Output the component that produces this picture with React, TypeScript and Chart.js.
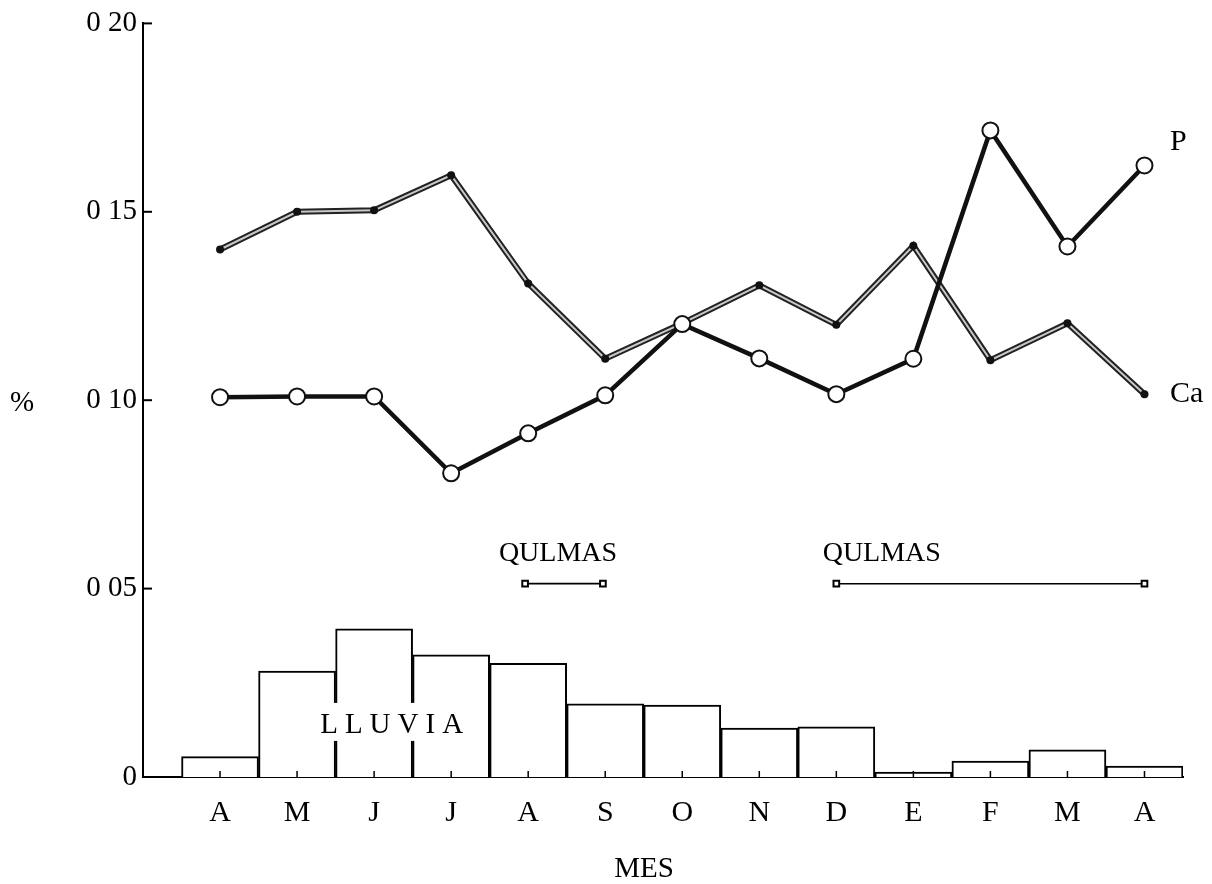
import React, { useEffect, useRef } from 'react';
import { Chart, registerables } from 'chart.js';

Chart.register(...registerables);

// ---- Data ----
const months = ['A', 'M', 'J', 'J', 'A', 'S', 'O', 'N', 'D', 'E', 'F', 'M', 'A'];
const lluvia = [0.0054, 0.0281, 0.0393, 0.0324, 0.0302, 0.0194, 0.0191, 0.013, 0.0133, 0.0013, 0.0042, 0.0072, 0.0029];
const fosforoP = [0.1008, 0.101, 0.101, 0.0806, 0.0912, 0.1013, 0.1202, 0.1111, 0.1016, 0.111, 0.1716, 0.1408, 0.1623];
const calcioCa = [0.140, 0.150, 0.1504, 0.1597, 0.131, 0.111, 0.1204, 0.1305, 0.120, 0.141, 0.1106, 0.1204, 0.1016];
const quemas1X = [3.96, 4.97];
const quemas2X = [8.0, 12.0];
const quemasY = 0.0513;
const yTickValues = [0, 0.05, 0.1, 0.15, 0.2];
const yTickLabels = ['0', '0 05', '0 10', '0 15', '0 20'];

const FONT = '"Liberation Serif", "Times New Roman", serif';

export default function App() {
  const ref = useRef<HTMLCanvasElement>(null);

  useEffect(() => {
    const canvas = ref.current;
    if (!canvas) return;
    const pts = (arr: number[]) => arr.map((v, i) => ({ x: i, y: v }));
    const seg = (xs: number[]) => xs.map((x) => ({ x, y: quemasY }));

    const annot = {
      id: 'annot',
      afterDatasetsDraw(chart: any) {
        const { ctx, scales } = chart;
        const x = scales.x;
        const y = scales.y;
        ctx.save();
        ctx.strokeStyle = '#000';
        // y tick marks (inside)
        ctx.lineWidth = 2;
        yTickValues.forEach((v) => {
          if (v === 0) return;
          const py = y.getPixelForValue(v);
          ctx.beginPath();
          ctx.moveTo(x.left, py);
          ctx.lineTo(x.left + 9, py);
          ctx.stroke();
        });
        // x tick marks (inside, pointing up)
        ctx.lineWidth = 1.5;
        months.forEach((_, i) => {
          const px = x.getPixelForValue(i);
          ctx.beginPath();
          ctx.moveTo(px, y.bottom);
          ctx.lineTo(px, y.bottom - 6);
          ctx.stroke();
        });

        ctx.fillStyle = '#000';
        ctx.textBaseline = 'alphabetic';

        // LLUVIA with white backing
        ctx.font = `29px ${FONT}`;
        (ctx as any).letterSpacing = '7px';
        const lx = x.getPixelForValue(1.3);
        const ly = y.getPixelForValue(0.0117);
        const lw = ctx.measureText('LLUVIA').width;
        ctx.fillStyle = '#fff';
        ctx.fillRect(lx - 3, ly - 30, lw, 38);
        ctx.fillStyle = '#000';
        ctx.textAlign = 'left';
        ctx.fillText('LLUVIA', lx, ly);
        (ctx as any).letterSpacing = '0px';

        // QULMAS labels
        ctx.font = `28px ${FONT}`;
        ctx.textAlign = 'center';
        ctx.fillText('QULMAS', x.getPixelForValue(4.387), y.getPixelForValue(0.0573));
        ctx.fillText('QULMAS', x.getPixelForValue(8.59), y.getPixelForValue(0.0573));

        // Series labels
        ctx.font = `30px ${FONT}`;
        ctx.textAlign = 'left';
        ctx.fillText('P', 1170, 150);
        ctx.fillText('Ca', 1170, 402);

        // Axis titles
        ctx.font = `29px ${FONT}`;
        ctx.textAlign = 'center';
        ctx.fillText('%', 22, 411);
        ctx.fillText('MES', 644, 877);
        ctx.restore();
      },
    };

    const chart = new Chart(canvas, {
      type: 'bar',
      data: {
        datasets: [
          {
            type: 'line',
            label: 'QULMAS 1',
            data: seg(quemas1X),
            borderColor: '#000',
            borderWidth: 1.8,
            pointStyle: 'rect',
            pointRadius: 4,
            pointBackgroundColor: '#fff',
            pointBorderColor: '#000',
            pointBorderWidth: 2,
            order: 1,
          } as any,
          {
            type: 'line',
            label: 'QULMAS 2',
            data: seg(quemas2X),
            borderColor: '#000',
            borderWidth: 1.5,
            pointStyle: 'rect',
            pointRadius: 4,
            pointBackgroundColor: '#fff',
            pointBorderColor: '#000',
            pointBorderWidth: 2,
            order: 1,
          } as any,
          {
            type: 'line',
            label: 'P',
            data: pts(fosforoP),
            borderColor: '#111',
            borderWidth: 4.5,
            pointRadius: 8,
            pointBackgroundColor: '#fff',
            pointBorderColor: '#111',
            pointBorderWidth: 2,
            clip: false,
            order: 2,
          } as any,
          {
            type: 'line',
            label: 'Ca dots',
            data: pts(calcioCa),
            showLine: false,
            pointRadius: 4,
            pointBackgroundColor: '#111',
            pointBorderColor: '#111',
            pointBorderWidth: 0,
            clip: false,
            order: 3,
          } as any,
          {
            type: 'line',
            label: 'Ca inner',
            data: pts(calcioCa),
            borderColor: '#c8c8c8',
            borderWidth: 2,
            pointRadius: 0,
            order: 4,
          } as any,
          {
            type: 'line',
            label: 'Ca',
            data: pts(calcioCa),
            borderColor: '#222',
            borderWidth: 6,
            pointRadius: 0,
            order: 5,
          } as any,
          {
            type: 'bar',
            label: 'LLUVIA',
            data: pts(lluvia),
            backgroundColor: '#fff',
            borderColor: '#000',
            borderWidth: 2,
            barPercentage: 1,
            categoryPercentage: 1,
            order: 10,
          } as any,
        ],
      },
      options: {
        responsive: false,
        animation: false,
        events: [],
        layout: { padding: { left: 0, top: 23, right: 29, bottom: 0 } },
        plugins: {
          legend: { display: false },
          tooltip: { enabled: false },
          title: { display: false },
        },
        scales: {
          x: {
            type: 'linear',
            min: -1,
            max: 12.5,
            offset: false,
            grid: { display: false, drawTicks: false, offset: false },
            border: { display: true, color: '#000', width: 2 },
            afterBuildTicks: (axis: any) => {
              axis.ticks = months.map((_, i) => ({ value: i }));
            },
            afterFit: (axis: any) => {
              axis.height = 107;
            },
            ticks: {
              autoSkip: false,
              maxRotation: 0,
              padding: 18,
              color: '#000',
              font: { family: FONT, size: 30 },
              callback: (v: any) => months[v as number] ?? '',
            },
          },
          y: {
            type: 'linear',
            min: 0,
            max: 0.2,
            grid: { display: false, drawTicks: false },
            border: { display: true, color: '#000', width: 2 },
            afterBuildTicks: (axis: any) => {
              axis.ticks = yTickValues.map((v) => ({ value: v }));
            },
            afterFit: (axis: any) => {
              axis.width = 143;
            },
            ticks: {
              padding: 6,
              color: '#000',
              font: { family: FONT, size: 29 },
              callback: (v: any) => {
                const i = yTickValues.findIndex((t) => Math.abs(t - v) < 1e-9);
                return i >= 0 ? yTickLabels[i] : '';
              },
            },
          },
        },
      },
      plugins: [annot],
    } as any);

    return () => chart.destroy();
  }, []);

  return (
    <div style={{ position: 'fixed', left: 0, top: 0, width: 1212, height: 884, background: '#fff' }}>
      <canvas ref={ref} width={1212} height={884} style={{ display: 'block' }} />
    </div>
  );
}
